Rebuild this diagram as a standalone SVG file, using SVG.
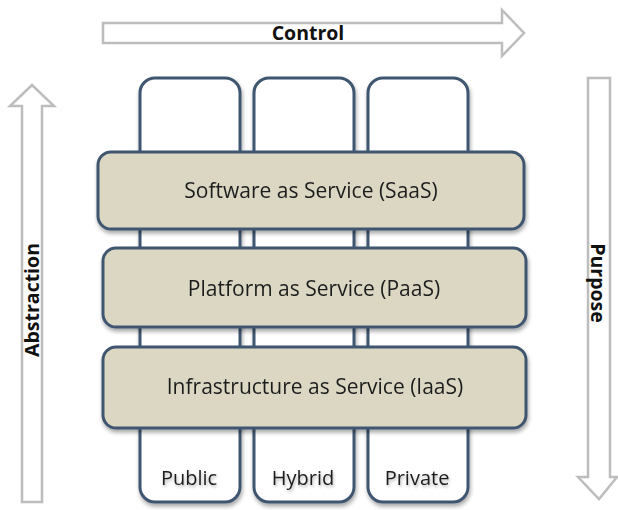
<svg xmlns="http://www.w3.org/2000/svg" width="618" height="510" viewBox="0 0 618 510">
<style>
.arrow{fill:#ffffff;stroke:#bdbdbd;stroke-width:2.5;stroke-linejoin:miter}
.col{fill:#ffffff;stroke:#3f5670;stroke-width:3}
.layer{fill:#dcd7c3;stroke:#3f5670;stroke-width:3}
.lt{font-family:"Open Sans","Liberation Sans",Arial,sans-serif;font-size:21px;fill:#1e1e1e;text-anchor:middle}
.ct{font-family:"Open Sans","Liberation Sans",Arial,sans-serif;font-size:20px;fill:#1e1e1e;text-anchor:middle}
.at{font-family:"Open Sans","Liberation Sans",Arial,sans-serif;font-size:19.5px;font-weight:bold;fill:#111;text-anchor:middle}
</style>
<defs>
<filter id="sh" x="-10%" y="-20%" width="125%" height="150%">
<feGaussianBlur in="SourceAlpha" stdDeviation="2"/>
<feOffset dx="1" dy="3" result="b"/>
<feComponentTransfer><feFuncA type="linear" slope="0.35"/></feComponentTransfer>
<feMerge><feMergeNode/><feMergeNode in="SourceGraphic"/></feMerge>
</filter>
<filter id="glow" x="-20%" y="-40%" width="140%" height="180%">
<feGaussianBlur in="SourceAlpha" stdDeviation="1.5"/>
<feOffset dx="1" dy="2"/>
<feComponentTransfer><feFuncA type="linear" slope="0.3"/></feComponentTransfer>
<feMerge><feMergeNode/><feMergeNode in="SourceGraphic"/></feMerge>
</filter>
<linearGradient id="ag" x1="0" y1="0" x2="0" y2="1">
<stop offset="0" stop-color="#ffffff"/><stop offset="1" stop-color="#f0f0f0"/>
</linearGradient>
</defs>

<g id="control">
<path class="arrow" fill="url(#ag)" d="M103,23 H502 V10 L524,33 L502,56 V43 H103 Z"/>
<text class="at" x="308" y="40">Control</text>
</g>

<g id="abstraction">
<path class="arrow" d="M22,502 V106 H10 L32,85 L54,106 H42 V502 Z"/>
<text class="at" transform="translate(39,300) rotate(-90)" x="0" y="0">Abstraction</text>
</g>

<g id="purpose">
<path class="arrow" d="M588,78 H610 V477 H617 L599,499 L578,477 H588 Z"/>
<text class="at" transform="translate(591,283) rotate(90)" x="0" y="0">Purpose</text>
</g>

<g id="public" filter="url(#sh)">
<rect class="col" x="140" y="78" width="100" height="424" rx="15"/>
</g>
<g id="hybrid" filter="url(#sh)">
<rect class="col" x="254" y="78" width="100" height="424" rx="15"/>
</g>
<g id="private" filter="url(#sh)">
<rect class="col" x="368" y="78" width="100" height="424" rx="15"/>
</g>

<g id="saas" filter="url(#sh)">
<rect class="layer" x="98" y="152" width="426" height="77" rx="13"/>
<text class="lt" x="311" y="198">Software as Service (SaaS)</text>
</g>
<g id="paas" filter="url(#sh)">
<rect class="layer" x="103" y="248" width="423" height="79" rx="13"/>
<text class="lt" x="314" y="296">Platform as Service (PaaS)</text>
</g>
<g id="iaas" filter="url(#sh)">
<rect class="layer" x="103" y="347" width="423" height="81" rx="13"/>
<text class="lt" x="315" y="394">Infrastructure as Service (IaaS)</text>
</g>

<g id="labels" filter="url(#glow)">
<text class="ct" x="189" y="485">Public</text>
<text class="ct" x="303" y="485">Hybrid</text>
<text class="ct" x="417" y="485">Private</text>
</g>
<g id="connectors"></g>
</svg>
